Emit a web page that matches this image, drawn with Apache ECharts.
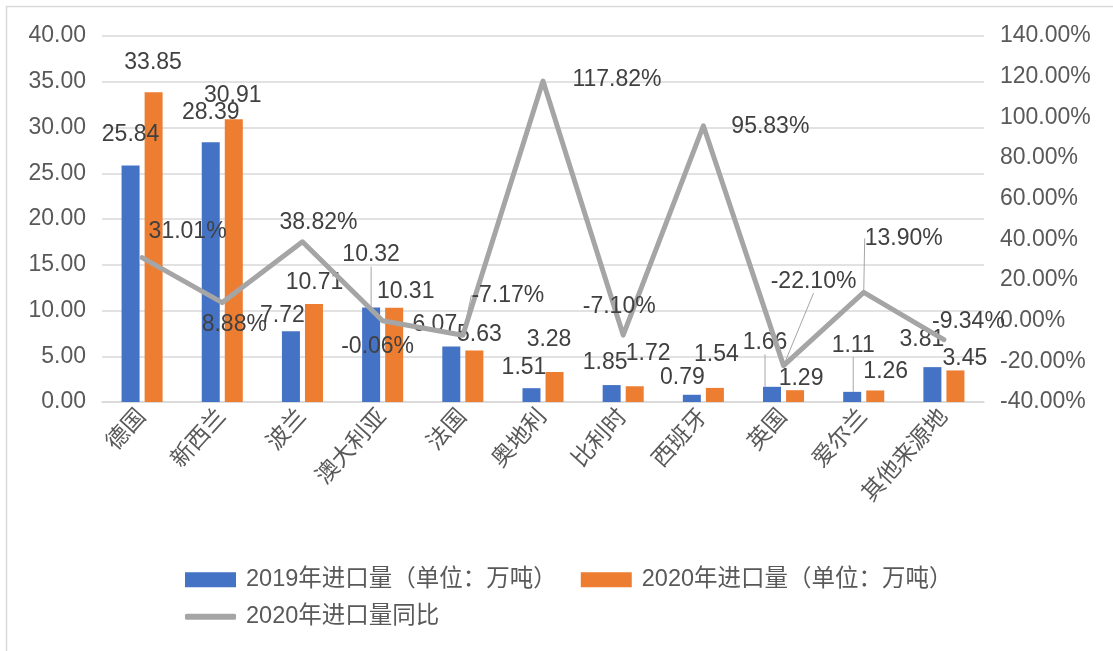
<!DOCTYPE html>
<html>
<head>
<meta charset="utf-8">
<script src="https://cdn.jsdelivr.net/npm/echarts@6/dist/echarts.min.js"></script>
<style>
html,body{margin:0;padding:0;background:#fff;}
#chart{width:1113px;height:651px;}
</style>
</head>
<body>
<div id="chart"></div>
<script>
var categories = ['德国','新西兰','波兰','澳大利亚','法国','奥地利','比利时','西班牙','英国','爱尔兰','其他来源地'];
var imports2019 = [25.84, 28.39, 7.72, 10.32, 6.07, 1.51, 1.85, 0.79, 1.66, 1.11, 3.81];
var imports2020 = [33.85, 30.91, 10.71, 10.31, 5.63, 3.28, 1.72, 1.54, 1.29, 1.26, 3.45];
var yoy2020 = [31.01, 8.88, 38.82, -0.06, -7.17, 117.82, -7.10, 95.83, -22.10, 13.90, -9.34];
var leftTicks = {min: 0, max: 40, interval: 5};
var rightTicks = {min: -40, max: 140, interval: 20};
var seriesNames = ['2019年进口量（单位：万吨）', '2020年进口量（单位：万吨）', '2020年进口量同比'];

// label displacement (styling only)
var off2019 = [[0,-14],[0,-13.5],[-8.5,0.5],[0,-36],[-16.5,-5],[-7.5,-4.5],[-6.5,-5.5],[-9.5,-0.5],[-7,-27.5],[1,-30],[-10.5,-10.5]];
var off2020 = [[-0.5,-13.5],[-1,-7.5],[0.5,-4.5],[11.5,0.5],[5,1],[-5.5,-15.5],[13.5,-16.5],[1.5,-16.5],[6,4.5],[10.5,-2.5],[9.5,4.5]];
var offYoy = [[45.5,-26],[12,22.5],[16,-19.5],[-5,26],[45,-40],[74,-1],[-4,-28.5],[67,1],[30,-84],[40,-54],[24.5,-18]];
var lead2019 = [3, 8, 9];
var leadYoy = [4, 8, 9];

var FONT = '"Liberation Sans", "Noto Sans CJK SC", sans-serif';
var labelColor = '#404040';
var axisColor = '#595959';
var gridColor = '#D9D9D9';

function withLead(values, leads) {
  return values.map(function (v, i) {
    var o = {value: v};
    if (leads.indexOf(i) >= 0) o.labelLine = {show: true};
    return o;
  });
}

var chart = echarts.init(document.getElementById('chart'), null, {renderer: 'canvas'});
var labelBase = {show: true, fontSize: 23, color: labelColor, fontFamily: FONT};
var leadStyle = {lineStyle: {color: '#A6A6A6', width: 1}};

chart.setOption({
  backgroundColor: '#ffffff',
  animation: false,
  graphic: [{
    type: 'rect', silent: true, z: -10,
    shape: {x: 6.5, y: 6.5, width: 1200, height: 700},
    style: {fill: 'none', stroke: '#D9D9D9', lineWidth: 1.5}
  }],
  grid: {left: 102, right: 129, top: 36, bottom: 249, containLabel: false},
  legend: [{
    data: [seriesNames[0], seriesNames[1]],
    left: 180, top: 563, orient: 'horizontal',
    itemWidth: 51, itemHeight: 15, itemGap: 24, icon: 'rect',
    textStyle: {fontSize: 23.5, color: axisColor, fontFamily: FONT, padding: [0, 0, 0, 5]}
  }, {
    data: [{name: seriesNames[2], itemStyle: {color: '#A5A5A5'}}],
    left: 180, top: 600,
    itemWidth: 51, itemHeight: 6, icon: 'roundRect',
    textStyle: {fontSize: 23.5, color: axisColor, fontFamily: FONT, padding: [0, 0, 0, 5]}
  }],
  xAxis: {
    type: 'category', data: categories,
    axisLine: {show: true, lineStyle: {color: gridColor, width: 1.5}},
    axisTick: {show: false},
    axisLabel: {rotate: 48, fontSize: 23, color: axisColor, fontFamily: FONT, margin: 11, interval: 0}
  },
  yAxis: [{
    type: 'value', min: leftTicks.min, max: leftTicks.max, interval: leftTicks.interval,
    axisLine: {show: false}, axisTick: {show: false},
    splitLine: {show: true, lineStyle: {color: gridColor, width: 1.5}},
    axisLabel: {fontSize: 23, color: axisColor, fontFamily: FONT, margin: 16,
      formatter: function (v) { return v.toFixed(2); }}
  }, {
    type: 'value', min: rightTicks.min, max: rightTicks.max, interval: rightTicks.interval,
    position: 'right',
    axisLine: {show: false}, axisTick: {show: false}, splitLine: {show: false},
    axisLabel: {fontSize: 23, color: axisColor, fontFamily: FONT, margin: 16,
      formatter: function (v) { return v.toFixed(2) + '%'; }}
  }],
  series: [{
    name: seriesNames[0], type: 'bar', yAxisIndex: 0,
    data: withLead(imports2019, lead2019),
    barWidth: 18, barGap: '28%',
    itemStyle: {color: '#4472C4'},
    label: Object.assign({position: 'top', distance: 5, formatter: function (p) { return p.value.toFixed(2); }}, labelBase),
    labelLayout: function (p) { return {dx: off2019[p.dataIndex][0], dy: off2019[p.dataIndex][1]}; },
    labelLine: leadStyle
  }, {
    name: seriesNames[1], type: 'bar', yAxisIndex: 0,
    data: imports2020,
    barWidth: 18, barGap: '28%',
    itemStyle: {color: '#ED7D31'},
    label: Object.assign({position: 'top', distance: 5, formatter: function (p) { return p.value.toFixed(2); }}, labelBase),
    labelLayout: function (p) { return {dx: off2020[p.dataIndex][0], dy: off2020[p.dataIndex][1]}; }
  }, {
    name: seriesNames[2], type: 'line', yAxisIndex: 1,
    data: withLead(yoy2020, leadYoy),
    symbol: 'circle', symbolSize: 2, showSymbol: true,
    itemStyle: {color: '#A5A5A5'},
    lineStyle: {color: '#A5A5A5', width: 5, cap: 'round', join: 'round'},
    z: 5,
    label: Object.assign({position: 'inside', formatter: function (p) { return p.value.toFixed(2) + '%'; }}, labelBase),
    labelLayout: function (p) { return {dx: offYoy[p.dataIndex][0], dy: offYoy[p.dataIndex][1]}; },
    labelLine: leadStyle
  }]
});
</script>
</body>
</html>
